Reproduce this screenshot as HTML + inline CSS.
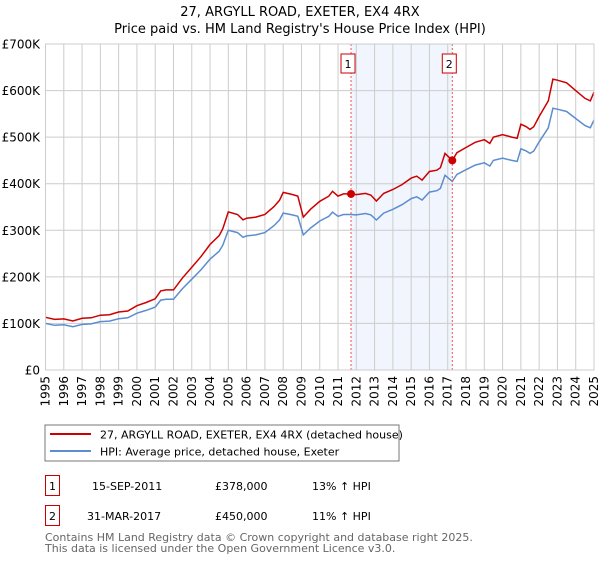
<!DOCTYPE html>
<html><head><meta charset="utf-8"><style>
body{margin:0;background:#fff;font-family:"DejaVu Sans","Liberation Sans",sans-serif;}
svg text{font-family:"DejaVu Sans","Liberation Sans",sans-serif;}
</style></head><body>
<svg id="chart" width="600" height="560" xmlns="http://www.w3.org/2000/svg">
<text x="300" y="16" text-anchor="middle" font-size="13" fill="#000">27, ARGYLL ROAD, EXETER, EX4 4RX</text>
<text x="300" y="33" text-anchor="middle" font-size="13" fill="#000">Price paid vs. HM Land Registry's House Price Index (HPI)</text>
<g id="grid"></g>
<g id="marks"></g>
<g id="axes"></g>
<rect x="45" y="425" width="354" height="36" fill="#fff" stroke="#777"/>
<line x1="50" y1="434" x2="91" y2="434" stroke="#cc0000" stroke-width="2"/>
<text x="100" y="438.5" font-size="11">27, ARGYLL ROAD, EXETER, EX4 4RX (detached house)</text>
<line x1="50" y1="451" x2="91" y2="451" stroke="#5b8dd0" stroke-width="2"/>
<text x="100" y="455.5" font-size="11">HPI: Average price, detached house, Exeter</text>
<g>
<rect x="45.5" y="475.5" width="14" height="20" fill="none" stroke="#cc0000"/>
<text x="52.5" y="490" font-size="11" text-anchor="middle">1</text>
<text x="92" y="490" font-size="11">15-SEP-2011</text>
<text x="215" y="490" font-size="11">£378,000</text>
<text x="312" y="490" font-size="11">13% ↑ HPI</text>
</g>
<g>
<rect x="45.5" y="505.5" width="14" height="20" fill="none" stroke="#cc0000"/>
<text x="52.5" y="520" font-size="11" text-anchor="middle">2</text>
<text x="87" y="520" font-size="11">31-MAR-2017</text>
<text x="215" y="520" font-size="11">£450,000</text>
<text x="312" y="520" font-size="11">11% ↑ HPI</text>
</g>
<text x="45" y="541" font-size="11" fill="#666">Contains HM Land Registry data © Crown copyright and database right 2025.</text>
<text x="45" y="552" font-size="11" fill="#666">This data is licensed under the Open Government Licence v3.0.</text>
</svg>
<script>
const hpiYears=[1995,1995.5,1996,1996.5,1997,1997.5,1998,1998.5,1999,1999.5,2000,2000.5,2001,2001.3,2001.6,2002,2002.5,2003,2003.5,2004,2004.5,2004.7,2005,2005.5,2005.8,2006,2006.5,2007,2007.5,2007.8,2008,2008.5,2008.8,2009.1,2009.5,2010,2010.5,2010.7,2011,2011.3,2011.7,2012,2012.5,2012.8,2013.1,2013.5,2014,2014.5,2015,2015.3,2015.6,2016,2016.4,2016.6,2016.85,2017.25,2017.5,2018,2018.5,2019,2019.3,2019.5,2020,2020.5,2020.8,2021,2021.3,2021.5,2021.7,2022,2022.5,2022.75,2023,2023.5,2024,2024.5,2024.8,2025];
const hpiValues=[100,96,97,93,98,99,104,105,110,112,122,128,135,150,152,152,175,195,215,238,255,268,300,295,285,288,290,295,310,322,337,333,330,290,305,320,330,339,330,334,334,333,336,333,322,337,345,355,368,372,365,382,385,390,418,405,420,430,440,445,438,450,455,450,448,475,470,465,470,490,520,562,560,555,540,525,520,537];
const saleDates=[2011.71,2017.25];
const salePrices=[378,450];
const saleLabels=["1","2"];
const yTicks=[0,100,200,300,400,500,600,700];
const yTickLabels=["£0","£100K","£200K","£300K","£400K","£500K","£600K","£700K"];
const NS="http://www.w3.org/2000/svg";
const X0=45.5,X1=594,Y0=370,Y1=44;
const xs=y=>X0+(y-1995)/30*(X1-X0);
const ys=v=>Y0-v/700*(Y0-Y1);
function mk(tag,attrs,parent){const e=document.createElementNS(NS,tag);for(const k in attrs)e.setAttribute(k,attrs[k]);parent.appendChild(e);return e;}
const grid=document.getElementById('grid'),marks=document.getElementById('marks'),axes=document.getElementById('axes');
// shaded region
const sh=mk('rect',{x:xs(saleDates[0]),y:Y1,width:xs(saleDates[1])-xs(saleDates[0]),height:Y0-Y1,fill:'#eef3fc',opacity:0.8},grid);


for(let yr=1995;yr<=2025;yr++){
  const l=mk('line',{x1:xs(yr),x2:xs(yr),y1:Y1,y2:Y0,stroke:'#cccccc','stroke-width':1},grid);
  
  
  const t=mk('text',{x:0,y:0,'font-size':12,'text-anchor':'end',transform:`translate(${xs(yr)+4},${Y0+6}) rotate(-90)`},axes);
  t.textContent=yr;
  
  
}
yTicks.forEach((v,i)=>{
  const l=mk('line',{x1:X0,x2:X1,y1:ys(v),y2:ys(v),stroke:'#cccccc','stroke-width':1},grid);
  
  
  const t=mk('text',{x:40,y:ys(v)+4.5,'font-size':12,'text-anchor':'end'},axes);
  t.textContent=yTickLabels[i];
  
  
});
// property line: HPI scaled to sale prices
function hpiAt(y){for(let i=1;i<hpiYears.length;i++){if(y<=hpiYears[i]){const f=(y-hpiYears[i-1])/(hpiYears[i]-hpiYears[i-1]);return hpiValues[i-1]+f*(hpiValues[i]-hpiValues[i-1]);}}return hpiValues[hpiValues.length-1];}
const r1=salePrices[0]/hpiAt(saleDates[0]),r2=salePrices[1]/hpiAt(saleDates[1]);
function ratio(y){if(y<=saleDates[0])return r1;if(y>=saleDates[1])return r2;const f=(y-saleDates[0])/(saleDates[1]-saleDates[0]);return r1+f*(r2-r1);}
const bp=hpiYears.map((y,i)=>xs(y).toFixed(1)+','+ys(hpiValues[i]).toFixed(1)).join(' ');
const rp=hpiYears.map((y,i)=>xs(y).toFixed(1)+','+ys(hpiValues[i]*ratio(y)).toFixed(1)).join(' ');
const bl=mk('polyline',{points:bp,fill:'none',stroke:'#5b8dd0','stroke-width':1.5},marks);


const rl=mk('polyline',{points:rp,fill:'none',stroke:'#cc0000','stroke-width':1.5},marks);


saleDates.forEach((d,i)=>{
  const l=mk('line',{x1:xs(d),x2:xs(d),y1:Y1,y2:Y0,stroke:'#ee5555','stroke-width':1,'stroke-dasharray':'2,2'},marks);
  
  
  const c=mk('circle',{cx:xs(d),cy:ys(salePrices[i]),r:4,fill:'#cc0000'},marks);
  
  
  const b=mk('rect',{x:xs(d)-10,y:54,width:14,height:19,fill:'#fff',stroke:'#cc0000'},marks);
  
  
  const t=mk('text',{x:xs(d)-3,y:68,'font-size':11,'text-anchor':'middle'},marks);
  t.textContent=saleLabels[i];
  
  
});
const fr=mk('rect',{x:X0,y:Y1,width:X1-X0,height:Y0-Y1,fill:'none',stroke:'#cccccc'},axes);


</script>
</body></html>
